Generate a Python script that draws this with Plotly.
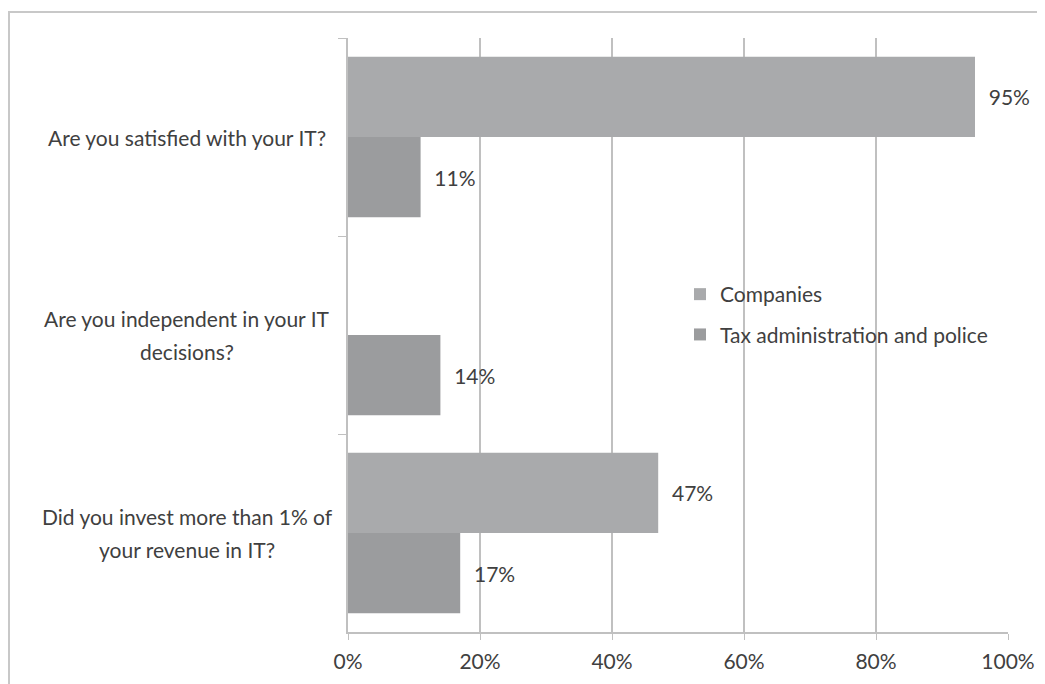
import plotly.graph_objects as go

categories = [
    "Are you satisfied with your IT?",
    "Are you independent in your IT<br>decisions?",
    "Did you invest more than 1% of<br>your revenue in IT?",
]
companies = [0.95, None, 0.47]
tax_police = [0.11, 0.14, 0.17]
series_names = ["Companies", "Tax administration and police"]
x_ticks = [0, 0.2, 0.4, 0.6, 0.8, 1.0]

FONT = "Lato"
FS = 21
TXT = "#404040"
GRID = "#c0c0c0"

OFF = 8  # page offset of the plot div
W, H = 1045, 684
L, R, T, B = 348 - OFF, 1045 - 1008 + OFF, 38 - OFF, 684 - 632 + OFF
pw, ph = W - L - R, H - T - B

fig = go.Figure()
for i, (name, vals, col) in enumerate([(series_names[0], companies, "#a9aaac"),
                                       (series_names[1], tax_police, "#9b9c9e")]):
    fig.add_trace(go.Bar(
        y=categories, x=vals, name=name, orientation="h",
        legendgroup=f"g{i}",
        marker=dict(color=col, line=dict(width=0)),
        text=[f"{v:.0%}" if v is not None else "" for v in vals],
        texttemplate="  %{text}",
        textposition="outside", cliponaxis=False,
        textfont=dict(family=FONT, size=FS, color=TXT),
    ))

LINE = 33
for c in categories:
    lines = c.split("<br>")
    n = len(lines)
    for j, ln in enumerate(lines):
        fig.add_annotation(x=(187 - 348) / pw, xref="paper", y=c, yref="y",
                           text=ln, showarrow=False, xanchor="center", align="center",
                           yshift=((n - 1) / 2 - j) * LINE,
                           font=dict(family=FONT, size=FS, color=TXT))

# outer frame
fig.add_shape(type="rect", xref="paper", yref="paper",
              x0=(9 - 348) / pw, x1=(1070 - 348) / pw,
              y0=(632 - 720) / ph, y1=(632 - 12) / ph,
              line=dict(color="#c8c8c8", width=2), fillcolor="rgba(0,0,0,0)")

fig.update_layout(
    width=W, height=H, margin=dict(l=L, r=R, t=T, b=B, autoexpand=False),
    paper_bgcolor="white", plot_bgcolor="white",
    barmode="group", bargap=0.19, bargroupgap=0,
    font=dict(family=FONT, size=FS, color=TXT),
    showlegend=True,
    legend=dict(x=(680 - 348) / pw, y=(632 - 274) / ph, xanchor="left", yanchor="top",
                bgcolor="rgba(0,0,0,0)", font=dict(family=FONT, size=FS, color=TXT),
                traceorder="grouped", tracegroupgap=10, itemwidth=30),
    xaxis=dict(range=[0, 1], tickvals=x_ticks, tickformat=".0%",
               showgrid=True, gridcolor=GRID, gridwidth=1.5,
               showline=True, linecolor=GRID, linewidth=1.5,
               ticks="outside", ticklen=6, tickcolor=GRID,
               ticklabelstandoff=4, automargin=False,
               zeroline=False, fixedrange=True,
               tickfont=dict(family=FONT, size=FS, color=TXT)),
    yaxis=dict(autorange="reversed", showticklabels=False, automargin=False,
               tickson="boundaries", ticks="outside", ticklen=8, tickcolor=GRID,
               showline=True, linecolor=GRID, linewidth=1.5,
               showgrid=False, zeroline=False, fixedrange=True),
)

fig.write_html("out.html")
